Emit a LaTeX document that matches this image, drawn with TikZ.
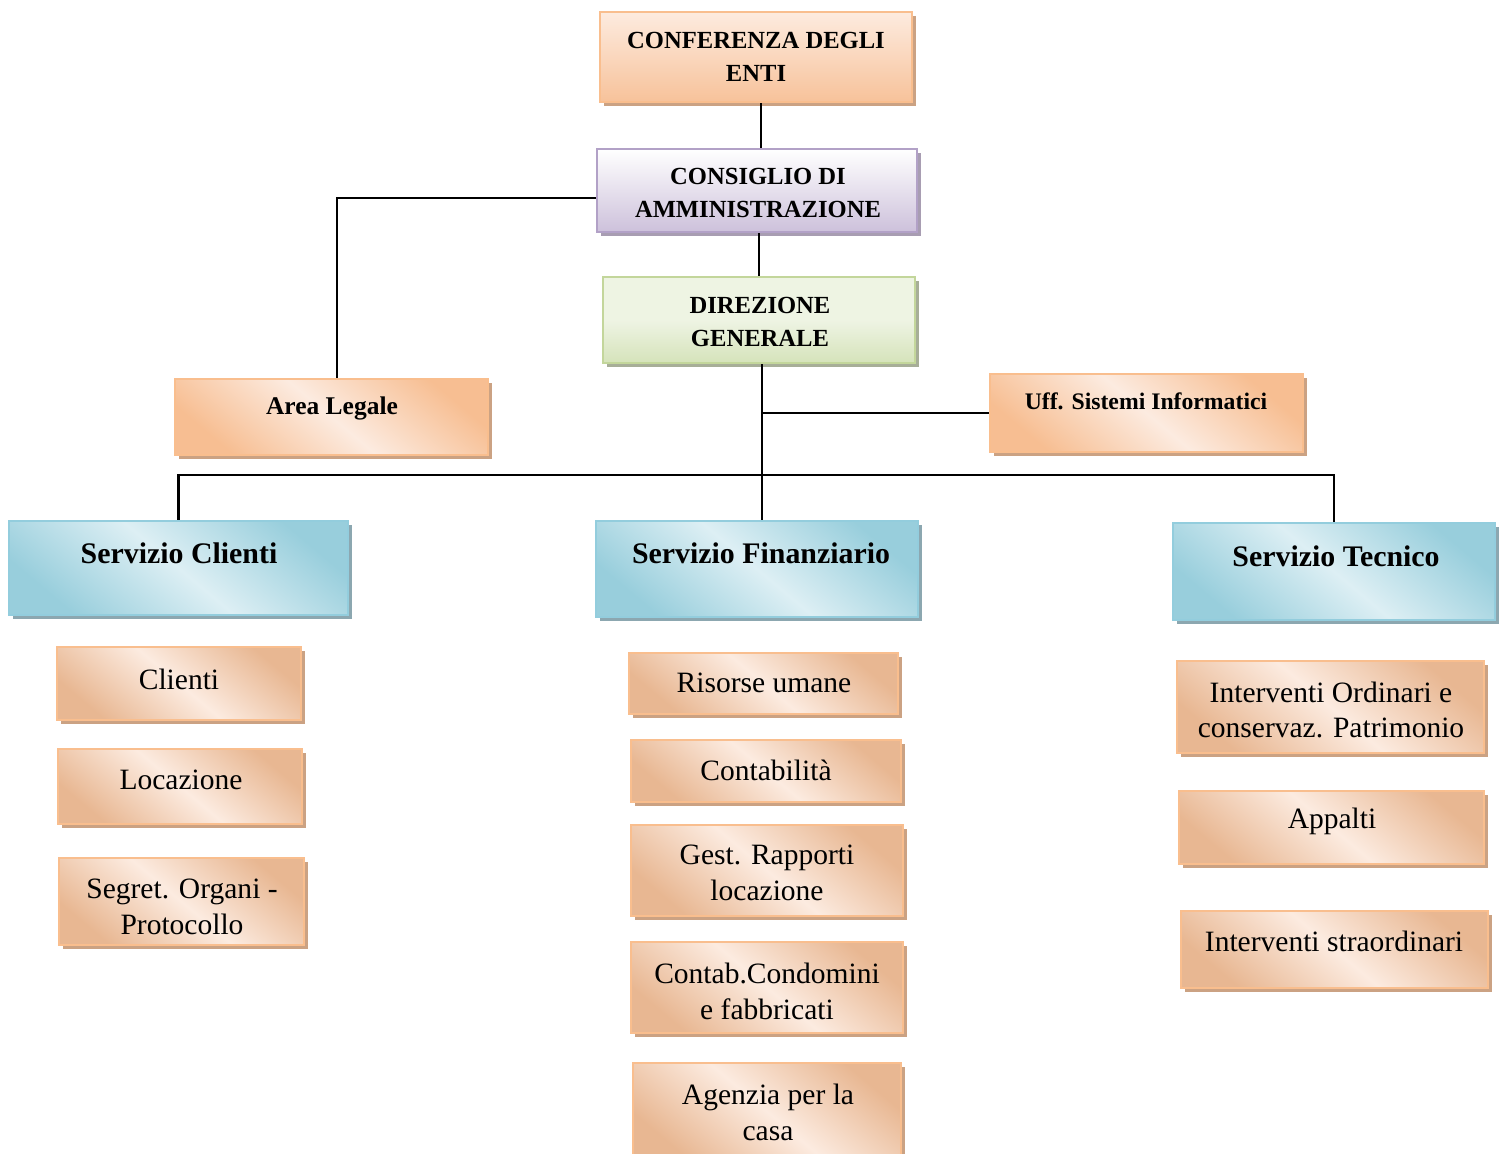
\documentclass[tikz,border=0pt]{standalone}
\usepackage{fontspec}
\setmainfont{Liberation Serif}[BoldFont={Liberation Serif Bold}]
\usetikzlibrary{fit,shadows}
\definecolor{orB}{HTML}{F9BE8E}
\definecolor{orD}{HTML}{F7C29A}
\definecolor{orL}{HTML}{FDEBDF}
\definecolor{orT}{HTML}{E8B792}
\definecolor{orP}{HTML}{F7BE92}
\definecolor{orW}{HTML}{FCEBE0}
\definecolor{orS}{HTML}{CBA283}
\definecolor{blB}{HTML}{93CDDD}
\definecolor{blD}{HTML}{98CEDC}
\definecolor{blL}{HTML}{DDEFF4}
\definecolor{blS}{HTML}{8CA7B0}
\definecolor{puB}{HTML}{B2A1C7}
\definecolor{puD}{HTML}{CDC1DB}
\definecolor{puS}{HTML}{A89DB2}
\definecolor{grB}{HTML}{C3D69B}
\definecolor{grD}{HTML}{D5E3BA}
\definecolor{grS}{HTML}{A7AE98}
\tikzset{
  boxbase/.style={rectangle, inner sep=0pt, line width=1.3pt},
  shd/.style={drop shadow={shadow xshift=0.08cm, shadow yshift=-0.08cm, opacity=1, fill=#1}},
  orhead/.style={boxbase, draw=orB, top color=orL, bottom color=orD, shd=orS},
  orsub/.style={boxbase, draw=orB, top color=orT, bottom color=orT, middle color=orW, shading angle=-40, shd=orS},
  orpeach/.style={boxbase, draw=orB, top color=orP, bottom color=orP, middle color=orW, shading angle=-40, shd=orS},
  blbox/.style={boxbase, draw=blB, top color=blD, bottom color=blD, middle color=blL, shading angle=-40, shd=blS},
  pubox/.style={boxbase, draw=puB, top color=white, bottom color=puD, shd=puS},
  grbox/.style={boxbase, draw=grB, top color=white!60!grD, bottom color=grD, middle color=grD!40, shd=grS},
  hdtxt/.style={align=center, inner sep=0pt, font=\fontsize{14}{18.7}\selectfont\bfseries},
  bltxt/.style={align=center, inner sep=0pt, font=\fontsize{17}{20}\selectfont\bfseries},
  sbtxt/.style={align=center, inner sep=0pt, font=\fontsize{16.8}{20.4}\selectfont},
  conn/.style={line width=1.6pt, black},
}
\begin{document}
\begin{tikzpicture}[x=0.02cm, y=-0.02cm]
\useasboundingbox (0,0) rectangle (1503,1153);
% top chain
\node[orhead, fit={(600,12) (912,102)}] (conf) {};
\node[hdtxt] (conft) at (756,57) {CONFERENZA DEGLI\\ENTI};
\node[pubox, fit={(597,149) (917,232)}] (cons) {};
\node[hdtxt] (const) at (758,193) {CONSIGLIO DI\\AMMINISTRAZIONE};
\node[grbox, fit={(603,277) (915,363)}] (dir) {};
\node[hdtxt] (dirt) at (760,322) {DIREZIONE\\GENERALE};
\node[orpeach, fit={(175,379) (488,455)}] (leg) {};
\node[font=\fontsize{14.5}{18}\selectfont\bfseries, inner sep=0pt] (legt) at (332,408) {Area Legale};
\node[orpeach, fit={(990,374) (1303,452)}] (uff) {};
\node[font=\fontsize{13.5}{18}\selectfont\bfseries, inner sep=0pt] (ufft) at (1146,401) {Uff. Sistemi Informatici};
% services
\node[blbox, fit={(9,521) (348,615)}] (cli) {};
\node[bltxt] (clit) at (179,553) {Servizio Clienti};
\node[blbox, fit={(596,521) (918,617)}] (fin) {};
\node[bltxt] (fint) at (761,553) {Servizio Finanziario};
\node[blbox, fit={(1173,523) (1495,620)}] (tec) {};
\node[bltxt] (tect) at (1336,556) {Servizio Tecnico};
% sub boxes clienti
\node[orsub, fit={(57,647) (301,720)}] (c1) {};
\node[sbtxt] (c1t) at (179,679) {Clienti};
\node[orsub, fit={(58,749) (302,824)}] (c2) {};
\node[sbtxt] (c2t) at (181,780) {Locazione};
\node[orsub, fit={(59,858) (304,945)}] (c3) {};
\node[sbtxt] (c3t) at (182,907) {Segret. Organi -\\Protocollo};
% sub boxes finanziario
\node[orsub, fit={(629,653) (898,714)}] (f1) {};
\node[sbtxt] (f1t) at (764,683) {Risorse umane};
\node[orsub, fit={(631,740) (901,802)}] (f2) {};
\node[sbtxt] (f2t) at (766,770) {Contabilità};
\node[orsub, fit={(631,825) (903,916)}] (f3) {};
\node[sbtxt] (f3t) at (767,873) {Gest. Rapporti\\locazione};
\node[orsub, fit={(631,942) (903,1033)}] (f4) {};
\node[sbtxt] (f4t) at (767,991) {Contab.Condomini\\e fabbricati};
\node[orsub, fit={(633,1063) (901,1160)}] (f5) {};
\node[sbtxt] (f5t) at (768,1112) {Agenzia per la\\casa};
% sub boxes tecnico
\node[orsub, fit={(1177,661) (1484,753)}] (t1) {};
\node[sbtxt] (t1t) at (1331,710) {Interventi Ordinari e\\conservaz. Patrimonio};
\node[orsub, fit={(1179,791) (1484,864)}] (t2) {};
\node[sbtxt] (t2t) at (1332,821) {Appalti};
\node[orsub, fit={(1181,911) (1488,988)}] (t3) {};
\node[sbtxt] (t3t) at (1334,941) {Interventi straordinari};
% connectors
\coordinate (vA) at (761,0);
\coordinate (vB) at (759,0);
\coordinate (vC) at (762,0);
\coordinate (vL) at (337,0);
\coordinate (hL) at (0,198);
\coordinate (busL) at (178,475);
\draw[conn] (conf.south -| vA) -- (cons.north -| vA);
\draw[conn] (cons.west |- hL) -| (leg.north -| vL);
\draw[conn] (cons.south -| vB) -- (dir.north -| vB);
\draw[conn] (dir.south -| vC) -- (fin.north -| vC);
\draw[conn] (uff.west -| vC) -- (uff.west);
\draw[conn] (cli.north) -- (cli.north |- busL) -- (tec.north |- busL) -- (tec.north);
\end{tikzpicture}
\end{document}
